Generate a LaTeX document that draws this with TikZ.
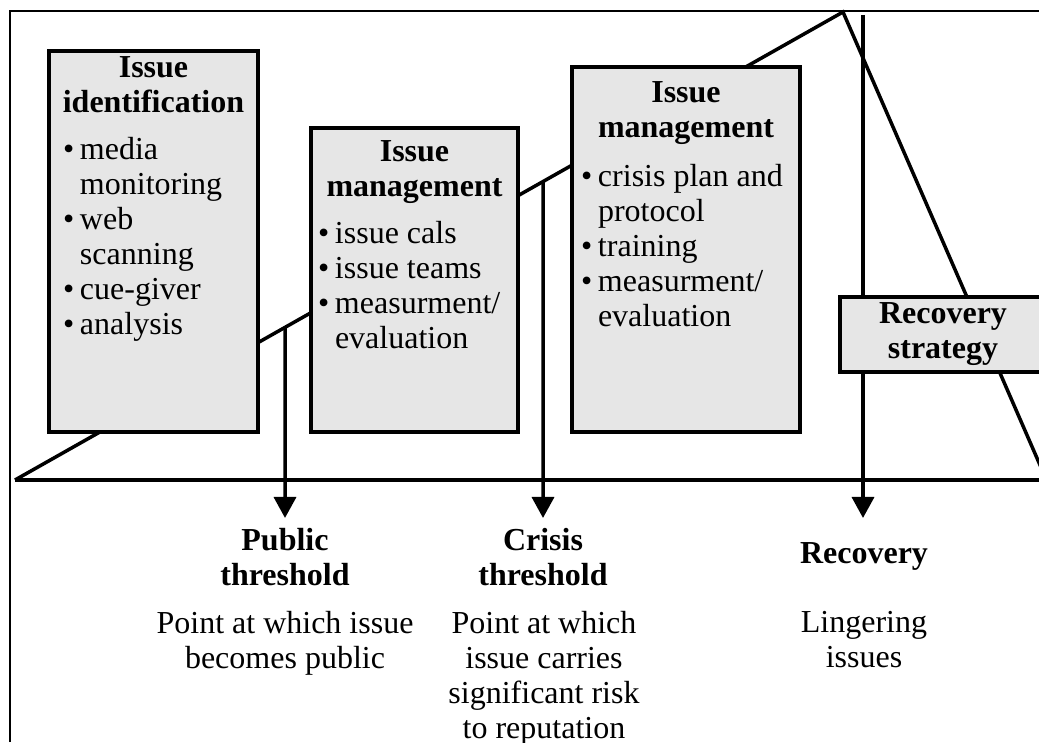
\documentclass[tikz,border=0pt]{standalone}
\usepackage{fontspec}
\setmainfont{Liberation Serif}
\usetikzlibrary{arrows.meta,calc}
\definecolor{boxgray}{RGB}{230,230,230}
\newcommand\bul{\makebox[17pt][l]{\textbullet}}
\newcommand\cont{\makebox[17pt][l]{}}
\begin{document}
\begin{tikzpicture}[x=1pt,y=1pt,
  stage/.style={draw=black, fill=boxgray, line width=3.5pt, inner sep=0pt, outer sep=0pt},
  txt/.style={inner sep=0pt, outer sep=0pt, font=\fontsize{32}{35}\selectfont},
  ttl/.style={txt, font=\fontsize{32}{35}\selectfont\bfseries, align=center, anchor=north},
  lst/.style={txt, align=left, anchor=north west},
  desc/.style={txt, align=center, anchor=north},
  curve/.style={line width=3.5pt, line join=miter},
  frame/.style={line width=1.6pt},
  arr/.style={line width=3.5pt, -{Triangle[width=22pt,length=21pt]}}]
\clip (0,0) rectangle (1039,742);
\fill[white] (0,0) rectangle (1039,742);
% frame
\coordinate (f0) at (10,0);
\coordinate (f1) at (10,731);
\coordinate (f2) at (1045,731);
\draw[frame] (f0) -- (f1) -- (f2);
% curve and baseline
\coordinate (s) at (15,262);
\coordinate (p) at (843,730);
\coordinate (e) at (1046.5,262);
\coordinate (be) at (1050,262);
\draw[curve] (s) -- (p) -- (e);
\draw[line width=3.5pt] (s) -- (be);
% arrows
\coordinate (a1) at ($(s)!0.3261!(p)$);
\coordinate (a2) at ($(s)!0.6377!(p)$);
\coordinate (a3) at (863,727);
\coordinate (t1) at (285,224);
\coordinate (t2) at (543,224);
\coordinate (t3) at (863,224);
\draw[arr] (a1) -- (t1);
\draw[arr] (a2) -- (t2);
\draw[arr] (a3) -- (t3);
% boxes
\node[stage, minimum width=209pt, minimum height=381pt] (b1) at (153.5,500.5) {};
\node[stage, minimum width=207pt, minimum height=304pt] (b2) at (414.5,462) {};
\node[stage, minimum width=228pt, minimum height=365pt] (b3) at (686,492.5) {};
\node[stage, minimum width=206pt, minimum height=75pt, txt, font=\fontsize{32}{35}\selectfont\bfseries, align=center] (rs) at (943,407.5) {Recovery\\strategy};
% box texts
\node[ttl] (t1h) at (153.5,685) {Issue\\identification};
\node[lst] (l1) at (63,605) {\bul media\\\cont monitoring\\\bul web\\\cont scanning\\\bul cue-giver\\\bul analysis};
\node[ttl] (t2h) at (414.5,601) {Issue\\management};
\node[lst] (l2) at (318,521) {\bul issue cals\\\bul issue teams\\\bul measurment/\\\cont evaluation};
\node[ttl] (t3h) at (686,660) {Issue\\management};
\node[lst] (l3) at (581,578) {\bul crisis plan and\\\cont protocol\\\bul training\\\bul measurment/\\\cont evaluation};
% bottom labels
\node[ttl] (pt) at (285,214) {Public\\threshold};
\node[desc] (pd) at (285,131) {Point at which issue\\becomes public};
\node[ttl] (ct) at (543,214) {Crisis\\threshold};
\node[desc] (cd) at (544,131) {Point at which\\issue carries\\significant risk\\to reputation};
\node[ttl] (rt) at (864,199) {Recovery};
\node[desc] (rd) at (864,131) {Lingering\\issues};
\end{tikzpicture}
\end{document}
